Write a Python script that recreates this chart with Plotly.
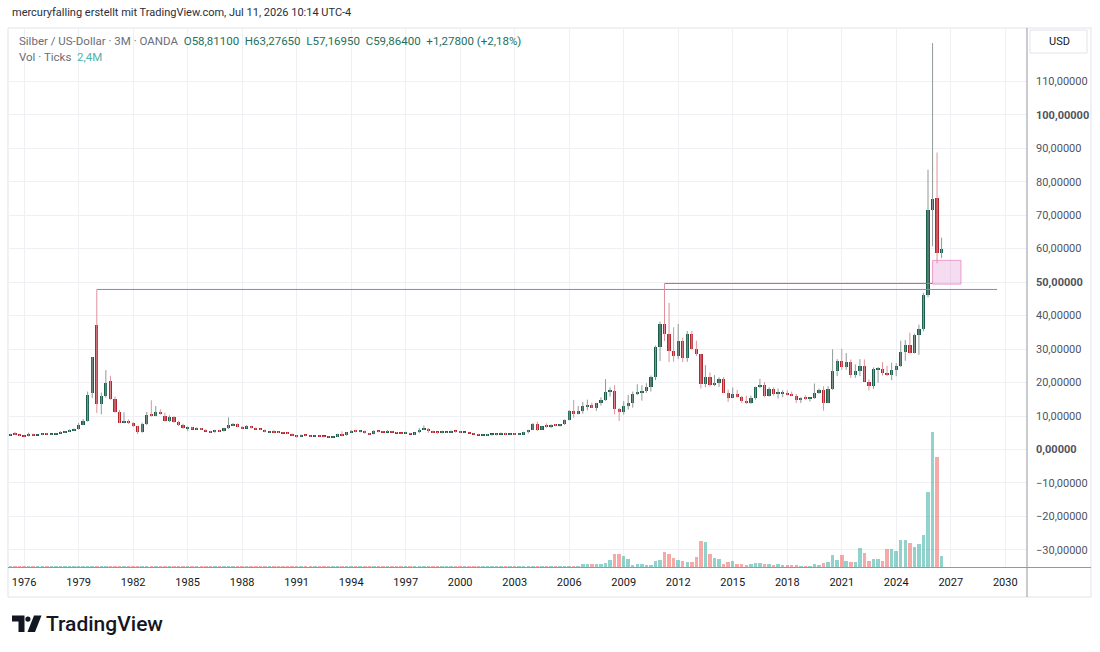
import plotly.graph_objects as go
import pandas as pd

# ---------------- data (quarterly candles, XAG/USD, OANDA) ----------------
QUARTERS = pd.date_range("1975-04-01", "2026-07-01", freq="QS")

OPEN = [
    4.20, 4.45, 4.35,
    4.15, 3.95, 4.65, 4.30,  4.35, 4.70, 4.50, 4.55,  4.85, 5.10, 5.35, 5.80,
    6.05, 7.35, 8.40, 16.80,  37.20, 13.60, 16.00, 20.50,  15.00, 11.30, 8.00, 8.60,
    7.80, 6.90, 5.30, 7.50,  10.60, 10.10, 11.10, 9.90,  8.40, 9.60, 8.30, 7.30,
    6.30, 6.60, 6.10, 6.20,  5.90, 5.50, 5.10, 5.70,  5.40, 6.30, 7.30, 7.50,
    6.70, 6.40, 6.90, 6.30,  6.10, 5.90, 5.20, 5.25,  5.20, 5.00, 4.90, 4.70,
    4.20, 3.90, 4.40, 4.10,  3.90, 4.10, 4.00, 3.80,  3.70, 3.80, 4.50, 4.20,
    5.10, 5.50, 5.30, 5.60,  4.90, 4.60, 5.40, 5.30,  5.20, 5.50, 5.10, 4.90,
    4.80, 5.00, 4.60, 5.10,  5.90, 6.20, 5.40, 5.20,  5.00, 5.10, 5.20, 5.50,
    5.40, 5.00, 5.00, 4.90,  4.60, 4.30, 4.30, 4.60,  4.60, 4.60, 4.90, 4.60,
    4.70, 4.50, 4.60, 5.10,  5.90, 7.60, 5.90, 6.90,  6.85, 7.10, 7.05, 7.50,
    8.80, 11.50, 10.70, 11.50,  12.90, 13.30, 12.40, 13.80,  14.80, 17.30, 17.50, 12.00,
    11.20, 13.10, 13.90, 16.60,  16.90, 17.50, 18.70, 21.80,  30.60, 37.60, 34.50, 29.50,
    27.90, 32.30, 27.40, 34.60,  30.00, 28.40, 19.50, 21.70,  19.40, 19.80, 21.00, 17.00,
    15.50, 16.50, 15.60, 14.50,  13.80, 15.40, 18.60, 19.20,  15.90, 18.20, 16.60, 16.70,
    16.90, 16.30, 16.10, 14.70,  15.50, 15.10, 15.30, 17.00,  17.90, 14.00, 18.20, 23.40,
    26.40, 24.50, 26.10, 22.20,  23.30, 25.00, 20.30, 19.00,  24.00, 24.10, 22.80, 22.20,
    23.80, 24.90, 29.10, 31.10,  28.90, 34.10, 36.00, 46.10,
    71.40, 75.00, 58.811,
]
HIGH = [
    4.70, 5.20, 4.45,
    4.20, 5.05, 4.75, 4.45,  4.85, 4.95, 4.65, 4.95,  5.45, 5.50, 6.00, 6.30,
    7.90, 9.10, 17.30, 27.60,  47.80, 17.00, 23.70, 22.00,  15.80, 11.80, 11.10, 9.00,
    8.20, 7.10, 8.00, 11.20,  14.70, 13.00, 12.00, 11.00,  10.20, 10.00, 8.60, 7.70,
    6.90, 6.80, 6.60, 6.40,  6.10, 5.60, 5.90, 5.90,  6.50, 9.60, 7.90, 7.80,
    7.00, 7.30, 7.10, 6.60,  6.20, 6.00, 5.40, 5.80,  5.40, 5.20, 5.10, 4.80,
    4.30, 4.50, 4.40, 4.20,  4.20, 4.20, 4.00, 3.90,  3.90, 4.70, 5.40, 5.20,
    5.80, 5.80, 5.80, 5.70,  4.90, 5.80, 5.60, 5.50,  5.80, 5.60, 5.20, 5.00,
    5.30, 5.00, 5.10, 6.40,  7.20, 6.40, 5.60, 5.30,  5.60, 5.30, 5.70, 5.60,
    5.50, 5.10, 5.10, 4.90,  4.70, 4.60, 4.60, 4.60,  4.80, 5.10, 5.00, 4.80,
    4.90, 4.80, 5.30, 5.90,  7.90, 8.30, 7.00, 7.80,  7.50, 7.60, 7.60, 9.00,
    11.80, 14.80, 13.00, 14.20,  14.90, 14.00, 13.90, 15.60,  21.00, 18.50, 19.20, 12.40,
    14.50, 16.30, 17.30, 19.50,  19.20, 19.80, 22.10, 31.00,  38.20, 49.60, 43.80, 36.50,
    37.50, 33.40, 35.40, 35.40,  32.50, 28.60, 25.20, 23.00,  22.20, 21.60, 21.60, 17.90,
    18.50, 17.80, 16.00, 16.10,  16.10, 18.80, 21.10, 20.10,  18.60, 18.60, 18.20, 17.70,
    17.70, 17.30, 16.60, 15.60,  16.20, 15.50, 19.70, 18.20,  18.90, 18.90, 29.90, 27.00,
    30.10, 28.80, 26.90, 25.40,  27.00, 26.90, 20.90, 24.50,  24.60, 26.10, 25.00, 25.90,
    25.80, 32.50, 32.70, 34.90,  34.60, 37.30, 46.80, 83.60,
    121.40, 88.70, 63.2765,
]
LOW = [
    4.15, 4.30, 3.95,
    3.85, 3.90, 4.20, 4.25,  4.30, 4.45, 4.40, 4.50,  4.80, 4.95, 5.25, 5.60,
    5.90, 7.25, 8.30, 15.40,  10.90, 10.50, 15.50, 14.80,  11.00, 7.90, 7.80, 7.60,
    6.70, 4.60, 5.00, 7.30,  9.80, 9.90, 10.40, 8.30,  8.20, 8.00, 7.00, 6.20,
    5.50, 6.00, 5.90, 5.80,  5.40, 5.00, 5.00, 5.30,  5.40, 6.10, 7.00, 6.60,
    6.20, 6.30, 6.20, 6.00,  5.80, 5.10, 5.00, 5.00,  4.90, 4.80, 4.60, 4.10,
    3.50, 3.80, 3.90, 3.80,  3.90, 3.90, 3.60, 3.60,  3.50, 3.70, 3.90, 4.10,
    5.00, 5.10, 5.10, 4.70,  4.40, 4.50, 5.10, 5.10,  5.20, 5.10, 4.90, 4.70,
    4.70, 4.60, 4.30, 4.90,  5.80, 5.00, 4.90, 4.70,  4.80, 4.90, 4.90, 5.00,
    4.90, 4.90, 4.80, 4.50,  4.30, 4.20, 4.10, 4.10,  4.20, 4.50, 4.40, 4.30,
    4.40, 4.40, 4.50, 4.80,  5.80, 5.50, 5.80, 6.50,  6.40, 6.90, 6.80, 7.30,
    8.70, 9.50, 10.50, 10.70,  11.70, 12.40, 11.50, 13.10,  14.50, 15.80, 10.50, 8.50,
    10.40, 11.90, 12.50, 16.20,  14.60, 16.90, 17.30, 20.70,  26.40, 32.40, 26.10, 26.20,
    27.00, 26.10, 26.20, 29.80,  27.90, 18.20, 18.60, 18.80,  18.90, 18.70, 16.90, 14.20,
    15.30, 15.50, 13.90, 13.60,  13.60, 14.90, 18.30, 15.60,  15.80, 16.10, 15.20, 15.60,
    16.10, 15.90, 13.90, 13.90,  14.80, 14.30, 15.10, 16.60,  11.60, 13.80, 17.80, 21.90,
    23.80, 23.80, 21.40, 21.40,  21.90, 20.30, 17.60, 18.10,  19.90, 22.10, 21.90, 20.70,
    21.90, 24.60, 26.50, 28.70,  28.70, 28.30, 35.30, 45.50,
    60.70, 55.60, 57.1695,
]
CLOSE = [
    4.45, 4.35, 4.15,
    3.95, 4.65, 4.30, 4.35,  4.70, 4.50, 4.55, 4.85,  5.10, 5.35, 5.80, 6.05,
    7.35, 8.40, 16.20, 27.50,  13.60, 16.00, 19.90, 15.00,  11.30, 8.00, 8.60, 7.80,
    6.90, 5.30, 7.50, 10.40,  10.00, 11.10, 10.60, 8.40,  9.60, 8.30, 7.30, 6.30,
    6.60, 6.10, 6.20, 5.90,  5.50, 5.10, 5.70, 5.40,  6.30, 7.30, 7.50, 6.70,
    6.40, 6.90, 6.30, 6.10,  5.90, 5.20, 5.25, 5.20,  5.00, 4.90, 4.70, 4.20,
    3.90, 4.40, 4.10, 3.90,  4.10, 4.00, 3.80, 3.70,  3.80, 4.50, 4.20, 5.10,
    5.50, 5.30, 5.60, 4.90,  4.60, 5.40, 5.30, 5.20,  5.50, 5.10, 4.90, 4.80,
    5.00, 4.60, 5.10, 5.90,  6.20, 5.40, 5.20, 5.00,  5.10, 5.20, 5.50, 5.40,
    5.00, 5.00, 4.90, 4.60,  4.30, 4.30, 4.60, 4.60,  4.60, 4.90, 4.60, 4.70,
    4.50, 4.60, 5.10, 5.90,  7.60, 5.90, 6.90, 6.85,  7.10, 7.05, 7.50, 8.80,
    11.50, 10.70, 11.50, 12.90,  13.30, 12.40, 13.80, 14.80,  17.30, 17.50, 12.00, 11.20,
    13.10, 13.90, 16.60, 16.90,  17.50, 18.70, 21.80, 30.60,  37.60, 34.50, 29.50, 27.90,
    32.30, 27.40, 34.60, 30.00,  28.40, 19.50, 21.70, 19.40,  19.80, 21.00, 17.00, 15.50,
    16.50, 15.60, 14.50, 13.80,  15.40, 18.60, 19.20, 15.90,  18.20, 16.60, 16.70, 16.90,
    16.30, 16.10, 14.70, 15.50,  15.10, 15.30, 17.00, 17.90,  14.00, 18.20, 23.40, 26.40,
    24.50, 26.10, 22.20, 23.30,  25.00, 20.30, 19.00, 24.00,  24.10, 22.80, 22.20, 23.80,
    24.90, 29.10, 31.10, 28.90,  34.10, 36.00, 46.10, 71.40,
    74.80, 58.586, 59.864,
]
# volume (ticks, millions)
VOLUME = [
    0.20, 0.20, 0.20,
    0.20, 0.20, 0.20, 0.20,  0.20, 0.20, 0.20, 0.20,  0.20, 0.20, 0.20, 0.20,
    0.20, 0.20, 0.25, 0.25,  0.25, 0.25, 0.25, 0.25,  0.20, 0.20, 0.20, 0.20,
    0.20, 0.20, 0.20, 0.20,  0.20, 0.20, 0.20, 0.20,  0.20, 0.20, 0.20, 0.20,
    0.20, 0.20, 0.20, 0.20,  0.20, 0.20, 0.20, 0.20,  0.20, 0.20, 0.20, 0.20,
    0.20, 0.20, 0.20, 0.20,  0.20, 0.20, 0.20, 0.20,  0.20, 0.20, 0.20, 0.20,
    0.20, 0.20, 0.20, 0.20,  0.20, 0.20, 0.20, 0.20,  0.20, 0.20, 0.20, 0.20,
    0.20, 0.20, 0.20, 0.20,  0.20, 0.20, 0.20, 0.20,  0.20, 0.20, 0.20, 0.20,
    0.20, 0.20, 0.20, 0.20,  0.20, 0.20, 0.20, 0.20,  0.20, 0.20, 0.20, 0.20,
    0.20, 0.20, 0.20, 0.20,  0.20, 0.20, 0.20, 0.20,  0.20, 0.20, 0.20, 0.20,
    0.20, 0.20, 0.20, 0.20,  0.20, 0.20, 0.20, 0.20,  0.20, 0.20, 0.15, 0.15,
    0.15, 0.22, 0.22, 0.58,  0.58, 0.58, 0.58, 0.73,  0.87, 1.46, 2.91, 2.77,
    2.33, 1.67, 0.36, 0.58,  0.58, 0.44, 0.44, 1.31,  1.46, 3.28, 2.77, 1.89,
    1.53, 1.31, 1.09, 1.09,  2.26, 5.68, 5.53, 2.91,  2.04, 1.67, 0.58, 1.09,
    1.24, 0.58, 0.58, 0.44,  0.58, 0.80, 0.87, 0.73,  0.58, 0.44, 0.58, 0.44,
    0.36, 0.36, 0.36, 0.22,  0.22, 0.22, 0.58, 0.44,  0.87, 1.09, 2.55, 1.53,
    2.55, 1.38, 1.09, 1.09,  4.08, 3.06, 1.38, 1.67,  1.67, 1.38, 3.86, 3.86,
    3.42, 5.82, 5.82, 5.24,  4.29, 5.02, 7.06, 16.40,
    29.50, 24.00, 2.40,
]

YEAR_TICKS = ["1976-01-01", "1979-01-01", "1982-01-01", "1985-01-01", "1988-01-01",
              "1991-01-01", "1994-01-01", "1997-01-01", "2000-01-01", "2003-01-01",
              "2006-01-01", "2009-01-01", "2012-01-01", "2015-01-01", "2018-01-01",
              "2021-01-01", "2024-01-01", "2027-01-01", "2030-01-01"]
YEAR_LABELS = ["1976", "1979", "1982", "1985", "1988", "1991", "1994", "1997", "2000",
               "2003", "2006", "2009", "2012", "2015", "2018", "2021", "2024", "2027", "2030"]
PRICE_TICKS = [-30, -20, -10, 0, 10, 20, 30, 40, 50, 60, 70, 80, 90, 100, 110]
PRICE_LABELS = ["−30,00000", "−20,00000", "−10,00000", "<b>0,00000</b>", "10,00000",
                "20,00000", "30,00000", "40,00000", "<b>50,00000</b>", "60,00000",
                "70,00000", "80,00000", "90,00000", "<b>100,00000</b>", "110,00000"]

# drawings on the chart
BLUE_RAY_FROM = "1980-01-01"   # anchored at the 1980 high
BLUE_RAY_TO = "2029-07-20"
RED_RAY_FROM = "2011-04-01"    # anchored at the 2011 high
RED_RAY_TO = "2026-01-01"
ZONE_X = ["2026-01-01", "2027-07-25"]
ZONE_Y = [49.4, 56.5]

# ---------------- styling ----------------
UP_BODY = "#1a5e4c"
DN_BODY = "#b3252f"
UP_WICK = "#8f9a97"
DN_WICK = "#e0919a"
VOL_UP = "rgba(38,166,154,0.5)"
VOL_DN = "rgba(239,83,80,0.5)"
GRID = "#eef0f4"
FONT = "Roboto"

FW, FH = 1100, 652
L, R, T, B = 9, 1027, 29, 567


def px(x):
    return (x - L) / (R - L)


def py(y):
    return (B - y) / (B - T)


up = [c >= o for o, c in zip(OPEN, CLOSE)]
DAY = 24 * 3600 * 1000

fig = go.Figure()

# volume overlay
fig.add_trace(go.Bar(
    x=QUARTERS, y=VOLUME, yaxis="y2", width=70 * DAY,
    marker=dict(color=[VOL_UP if u else VOL_DN for u in up], line=dict(width=0)),
    hoverinfo="skip", showlegend=False))

# horizontal rays from the 1980 and 2011 highs
i80 = list(QUARTERS).index(pd.Timestamp(BLUE_RAY_FROM))
i11 = list(QUARTERS).index(pd.Timestamp(RED_RAY_FROM))
fig.add_trace(go.Scatter(x=[BLUE_RAY_FROM, BLUE_RAY_TO], y=[HIGH[i80], HIGH[i80]], mode="lines",
                         line=dict(color="#6f8af0", width=1), hoverinfo="skip", showlegend=False))
fig.add_trace(go.Scatter(x=[RED_RAY_FROM, RED_RAY_TO], y=[HIGH[i11], HIGH[i11]], mode="lines",
                         line=dict(color="#e2586a", width=1), hoverinfo="skip", showlegend=False))

# wicks
for flag, col in ((True, UP_WICK), (False, DN_WICK)):
    wx, wy = [], []
    for d, h, lo, u in zip(QUARTERS, HIGH, LOW, up):
        if u == flag:
            wx += [d, d, None]
            wy += [lo, h, None]
    fig.add_trace(go.Scatter(x=wx, y=wy, mode="lines", line=dict(color=col, width=1),
                             hoverinfo="skip", showlegend=False))

# bodies
base = [min(o, c) for o, c in zip(OPEN, CLOSE)]
height = [max(abs(c - o), 0.3) for o, c in zip(OPEN, CLOSE)]
fig.add_trace(go.Bar(
    x=QUARTERS, base=base, y=height, width=66 * DAY,
    marker=dict(color=[UP_BODY if u else DN_BODY for u in up], line=dict(width=0)),
    hoverinfo="skip", showlegend=False))

shapes = [
    # zone rectangle
    dict(type="rect", xref="x", yref="y", x0=ZONE_X[0], x1=ZONE_X[1],
         y0=ZONE_Y[0], y1=ZONE_Y[1], fillcolor="rgba(222,140,205,0.30)",
         line=dict(color="rgba(228,130,190,0.75)", width=1)),
    # panel frame
    dict(type="rect", xref="paper", yref="paper", x0=px(8), x1=px(1091), y0=py(28), y1=py(597),
         line=dict(color="#e0e3eb", width=1), layer="below"),
    # price-axis separator
    dict(type="line", xref="paper", yref="paper", x0=px(1027), x1=px(1027), y0=py(28), y1=py(597),
         line=dict(color="#9598a1", width=1)),
    # time-axis separator
    dict(type="line", xref="paper", yref="paper", x0=px(8), x1=px(1091), y0=py(567.5), y1=py(567.5),
         line=dict(color="#9598a1", width=1)),
    # USD box
    dict(type="rect", xref="paper", yref="paper", x0=px(1030), x1=px(1087), y0=py(30), y1=py(53),
         line=dict(color="#e0e3eb", width=1)),
    # TradingView logo
    dict(type="path", xref="paper", yref="paper",
         path="M {} {} L {} {} L {} {} L {} {} L {} {} L {} {} Z".format(
             px(12), py(615.5), px(24.5), py(615.5), px(24.5), py(632), px(18.5), py(632),
             px(18.5), py(621.5), px(12), py(621.5)),
         fillcolor="#131722", line=dict(width=0)),
    dict(type="circle", xref="paper", yref="paper", x0=px(25.3), x1=px(30.5), y0=py(616.5), y1=py(621.7),
         fillcolor="#131722", line=dict(width=0)),
    dict(type="path", xref="paper", yref="paper",
         path="M {} {} L {} {} L {} {} L {} {} Z".format(
             px(34), py(615.5), px(41.5), py(615.5), px(35), py(632), px(27.5), py(632)),
         fillcolor="#131722", line=dict(width=0)),
]

annotations = [
    dict(x=px(10), y=py(13), xref="paper", yref="paper", xanchor="left", yanchor="middle",
         showarrow=False, text="mercuryfalling erstellt mit TradingView.com, Jul 11, 2026 10:14 UTC-4",
         font=dict(family=FONT, size=11, color="#2a2e39")),
    dict(x=px(17), y=py(41), xref="paper", yref="paper", xanchor="left", yanchor="middle",
         showarrow=False,
         text=("<span style='color:#6a6d78'>Silber / US-Dollar · 3M · OANDA</span>  "
               "<span style='color:#22705c'>O58,81100  H63,27650  L57,16950  C59,86400  "
               "+1,27800 (+2,18%)</span>"),
         font=dict(family=FONT, size=11.5, color="#22705c")),
    dict(x=px(17), y=py(57), xref="paper", yref="paper", xanchor="left", yanchor="middle",
         showarrow=False,
         text="<span style='color:#6a6d78'>Vol · Ticks</span>  <span style='color:#4fb3a9'>2,4M</span>",
         font=dict(family=FONT, size=11.5, color="#6a6d78")),
    dict(x=px(1047), y=py(41.5), xref="paper", yref="paper", xanchor="left", yanchor="middle",
         showarrow=False, text="USD", font=dict(family=FONT, size=11, color="#131722")),
    dict(x=px(44), y=py(623.5), xref="paper", yref="paper", xanchor="left", yanchor="middle",
         showarrow=False, text="TradingView", font=dict(family=FONT, size=21, color="#131722", weight=500)),
]

fig.update_layout(
    width=FW, height=FH,
    margin=dict(l=L, r=FW - R, t=T, b=FH - B),
    paper_bgcolor="white", plot_bgcolor="white",
    barmode="overlay", bargap=0,
    showlegend=False,
    shapes=shapes, annotations=annotations,
    xaxis=dict(type="date", range=["1975-03-03", "2031-03-14"],
               tickmode="array", tickvals=YEAR_TICKS, ticktext=YEAR_LABELS,
               showgrid=True, gridcolor=GRID, gridwidth=1, zeroline=False, showline=False,
               ticks="", ticklabelstandoff=7,
               tickfont=dict(family=FONT, size=11, color="#131722")),
    yaxis=dict(side="right", range=[-35.1, 125.6], tickmode="array",
               tickvals=PRICE_TICKS, ticktext=PRICE_LABELS,
               showgrid=True, gridcolor=GRID, gridwidth=1, zeroline=False, showline=False,
               ticks="", ticklabelstandoff=8,
               tickfont=dict(family=FONT, size=11, color="#50535e")),
    yaxis2=dict(overlaying="y", range=[0, 117.5], visible=False, showgrid=False),
)

fig.write_html("out.html")
